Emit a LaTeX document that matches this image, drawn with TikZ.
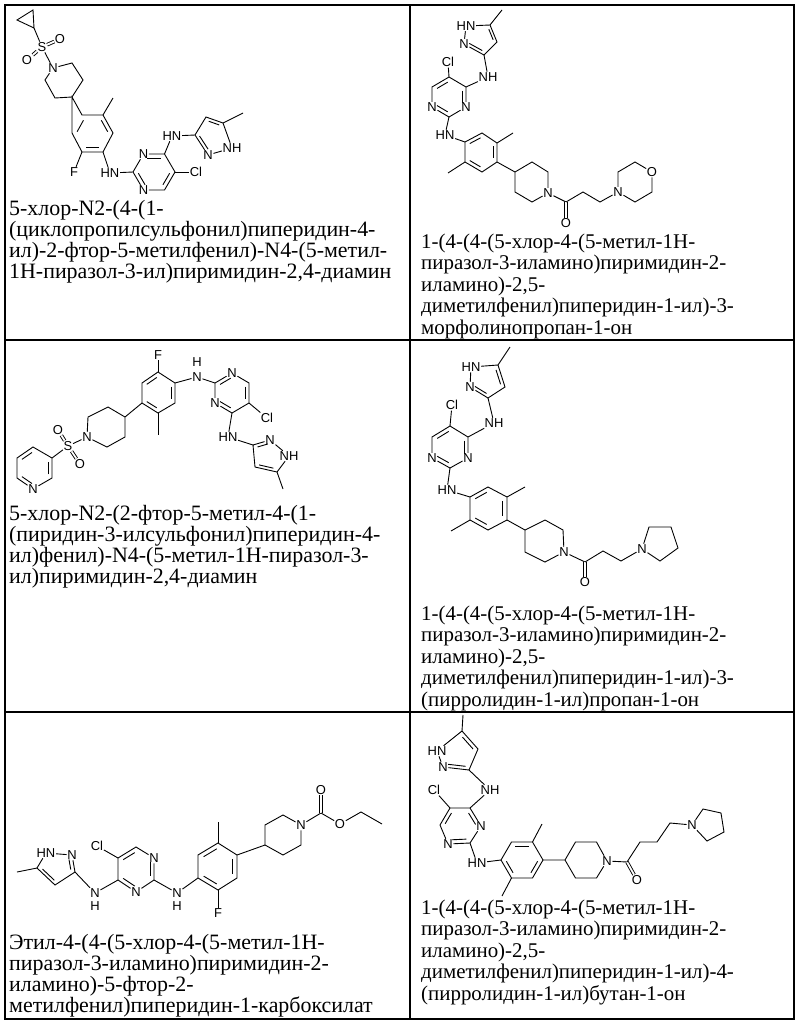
\documentclass[tikz,border=0pt]{standalone}
\usepackage{fontspec}
\setmainfont{Liberation Serif}
\newfontfamily\atomfont{Liberation Sans}
\usetikzlibrary{calc}
\tikzset{
 bond/.style={line width=0.9pt},
 atom/.style={font=\atomfont\fontsize{13}{13}\selectfont, inner sep=0.6pt},
 cellname/.style={anchor=base west, align=left, inner sep=0pt, font=\fontsize{22}{21}\selectfont},
 cellnameb/.style={anchor=base west, align=left, inner sep=0pt, font=\fontsize{21}{21.5}\selectfont},
 dbo/.style={bond, double, double distance=1.8pt}
}
\newcommand\dbl[3]{\draw[bond,shorten <=1.5pt,shorten >=1.5pt] ($(#1)!0.22!(#3)$) -- ($(#2)!0.22!(#3)$);}
\begin{document}
\begin{tikzpicture}[x=1bp,y=-1bp]
\useasboundingbox (0,0) rectangle (800,1025);
% table
\draw[line width=1.2pt] (5,5) rectangle (794,1019);
\draw[line width=1.2pt] (410,5) -- (410,1019);
\draw[line width=1.2pt] (5,340) -- (794,340);
\draw[line width=1.2pt] (5,712) -- (794,712);

% ================= cell 1 =================
\coordinate (cp1) at (17,20); \coordinate (cp2) at (33,10); \coordinate (cp3) at (34,28);
\draw[bond] (cp1)--(cp2)--(cp3)--cycle;
\node[atom] (S1) at (42,47) {S};
\node[atom] (S1a) at (60,39) {O};
\node[atom] (S1b) at (27,60) {O};
\node[atom] (N1p) at (53,68) {N};
\draw[bond] (cp3)--(S1); \draw[dbo] (S1)--(S1a); \draw[dbo] (S1)--(S1b); \draw[bond] (S1)--(N1p);
\coordinate (q2) at (72,63); \coordinate (q3) at (83,80); \coordinate (q4) at (72,97);
\coordinate (q5) at (55,98); \coordinate (q6) at (45,80);
\draw[bond] (N1p)--(q2)--(q3)--(q4)--(q5)--(q6)--(N1p);
\coordinate (b1) at (82,115); \coordinate (b2) at (103,115); \coordinate (b3) at (113,133);
\coordinate (b4) at (103,152); \coordinate (b5) at (82,152); \coordinate (b6) at (72,133);
\coordinate (bc) at (92,133);
\draw[bond] (q4)--(b1)--(b2)--(b3)--(b4)--(b5)--(b6)--cycle;
\dbl{b2}{b3}{bc} \dbl{b4}{b5}{bc} \dbl{b6}{b1}{bc}
\coordinate (me1) at (113,98); \draw[bond] (b2)--(me1);
\node[atom] (F1) at (74,172) {F}; \draw[bond] (b5)--(F1);
\node[atom] (HNa) at (110,173) {HN}; \draw[bond] (b4)--(HNa);
\coordinate (y2) at (133,172); \node[atom] (y3) at (143.5,154) {N};
\coordinate (y4) at (164.5,154); \coordinate (y5) at (175,172);
\coordinate (y6) at (164.5,190); \node[atom] (y1) at (143.5,190) {N};
\coordinate (yc) at (154,172);
\draw[bond] (HNa)--(y2)--(y3)--(y4)--(y5)--(y6)--(y1)--(y2);
\dbl{y3}{y4}{yc} \dbl{y5}{y6}{yc} \dbl{y1}{y2}{yc}
\node[atom] (Cl1) at (196,172) {Cl}; \draw[bond] (y5)--(Cl1);
\node[atom] (HNb) at (172,136) {HN}; \draw[bond] (y4)--(HNb);
\coordinate (z3) at (195,135); \node[atom] (z2) at (208,155) {N};
\node[atom] (z1) at (232,148) {NH}; \coordinate (z5) at (223,123);
\coordinate (z4) at (206,117); \coordinate (zc) at (212,134);
\draw[bond] (HNb)--(z3)--(z2)--(z1)--(z5)--(z4)--(z3);
\dbl{z3}{z2}{zc} \dbl{z4}{z5}{zc}
\coordinate (me2) at (243,113); \draw[bond] (z5)--(me2);
\node[cellname] (t1) at (9,278) {5-хлор-N2-(4-(1-\\(циклопропилсульфонил)пиперидин-4-\\ил)-2-фтор-5-метилфенил)-N4-(5-метил-\\1H-пиразол-3-ил)пиримидин-2,4-диамин};

% ================= cell 2 =================
\coordinate (A5) at (490,25); \node[atom] (A1) at (466,26) {HN}; \node[atom] (A2) at (464,44) {N};
\coordinate (A3) at (484,55); \coordinate (A4) at (497,42); \coordinate (Ac) at (482,38);
\draw[bond] (A5)--(A1)--(A2)--(A3)--(A4)--(A5);
\dbl{A3}{A2}{Ac} \dbl{A4}{A5}{Ac}
\coordinate (Ame) at (502,10); \draw[bond] (A5)--(Ame);
\node[atom] (ANH) at (488,77) {NH}; \draw[bond] (A3)--(ANH);
\coordinate (B4) at (466,87); \coordinate (B5) at (449,77); \coordinate (B6) at (432,87);
\node[atom] (B1) at (432,107) {N}; \coordinate (B2) at (449,117); \node[atom] (B3) at (466,107) {N};
\coordinate (Bc) at (449,97);
\draw[bond] (ANH)--(B4)--(B5)--(B6)--(B1)--(B2)--(B3)--(B4);
\dbl{B5}{B6}{Bc} \dbl{B4}{B3}{Bc} \dbl{B2}{B1}{Bc}
\node[atom] (BCl) at (448,62) {Cl}; \draw[bond] (B5)--(BCl);
\node[atom] (BHN) at (445,135) {HN}; \draw[bond] (B2)--(BHN);
\coordinate (C1) at (465,142); \coordinate (C2) at (482,133); \coordinate (C3) at (497,143);
\coordinate (C4) at (497,162); \coordinate (C5) at (482,172); \coordinate (C6) at (465,162);
\coordinate (Cc) at (481,152);
\draw[bond] (BHN)--(C1)--(C2)--(C3)--(C4)--(C5)--(C6)--(C1);
\dbl{C1}{C2}{Cc} \dbl{C3}{C4}{Cc} \dbl{C5}{C6}{Cc}
\coordinate (Cm1) at (513,133); \coordinate (Cm2) at (448,173);
\draw[bond] (C3)--(Cm1); \draw[bond] (C6)--(Cm2);
\coordinate (D1) at (515,172); \coordinate (D2) at (532,162); \coordinate (D3) at (548,172);
\node[atom] (DN) at (548,193) {N}; \coordinate (D5) at (532,202); \coordinate (D6) at (515,192);
\draw[bond] (C4)--(D1)--(D2)--(D3)--(DN)--(D5)--(D6)--(D1);
\coordinate (Dk) at (566,202); \node[atom] (DO) at (566,223) {O};
\draw[bond] (DN)--(Dk); \draw[dbo] (Dk)--(DO);
\coordinate (E1) at (583,192); \coordinate (E2) at (600,202);
\node[atom] (EN) at (618,192) {N};
\draw[bond] (Dk)--(E1)--(E2)--(EN);
\coordinate (E3) at (618,172); \coordinate (E4) at (635,162); \node[atom] (EO) at (652,172) {O};
\coordinate (E5) at (652,192); \coordinate (E6) at (635,202);
\draw[bond] (EN)--(E3)--(E4)--(EO)--(E5)--(E6)--(EN);
\node[cellnameb] (t2) at (421,334) {1-(4-(4-(5-хлор-4-(5-метил-1H-\\пиразол-3-иламино)пиримидин-2-\\иламино)-2,5-\\диметилфенил)пиперидин-1-ил)-3-\\морфолинопропан-1-он};

% ================= cell 3 =================
\node[atom] (GF) at (158,355) {F};
\coordinate (G1) at (158,372); \coordinate (G2) at (175,383); \coordinate (G3) at (175,403);
\coordinate (G4) at (158,413); \coordinate (G5) at (142,403); \coordinate (G6) at (142,383);
\coordinate (Gc) at (158,393);
\draw[bond] (G1)--(G2)--(G3)--(G4)--(G5)--(G6)--(G1);
\dbl{G6}{G1}{Gc} \dbl{G2}{G3}{Gc} \dbl{G4}{G5}{Gc}
\draw[bond] (G1)--(GF);
\coordinate (Gme) at (158,435); \draw[bond] (G4)--(Gme);
\node[atom] (GN) at (197,377) {N}; \node[atom] (GH) at (197,362) {H};
\draw[bond] (G2)--(GN);
\coordinate (H2) at (215,383); \node[atom] (H3) at (232,373) {N}; \coordinate (H6) at (249,383);
\coordinate (H5) at (249,403); \coordinate (H4) at (232,413); \node[atom] (H1) at (215,403) {N};
\coordinate (Hc) at (232,393);
\draw[bond] (GN)--(H2)--(H3)--(H6)--(H5)--(H4)--(H1)--(H2);
\dbl{H2}{H3}{Hc} \dbl{H6}{H5}{Hc} \dbl{H4}{H1}{Hc}
\node[atom] (HCl) at (267,418) {Cl}; \draw[bond] (H5)--(HCl);
\node[atom] (HHN) at (228,437) {HN}; \draw[bond] (H4)--(HHN);
\coordinate (I3) at (253,445); \node[atom] (I2) at (270,440) {N}; \node[atom] (I1) at (289,456) {NH};
\coordinate (I5) at (277,472); \coordinate (I4) at (255,467); \coordinate (Ic) at (267,456);
\draw[bond] (HHN)--(I3)--(I2)--(I1)--(I5)--(I4)--(I3);
\dbl{I3}{I2}{Ic} \dbl{I4}{I5}{Ic}
\coordinate (Ime) at (283,489); \draw[bond] (I5)--(Ime);
\coordinate (J1) at (125,417); \coordinate (J2) at (108,407); \coordinate (J3) at (88,417);
\node[atom] (JN) at (87,437) {N}; \coordinate (J5) at (107,447); \coordinate (J6) at (125,437);
\draw[bond] (G5)--(J1)--(J2)--(J3)--(JN)--(J5)--(J6)--(J1);
\node[atom] (JS) at (68,446) {S}; \node[atom] (JOa) at (58,430) {O}; \node[atom] (JOb) at (80,464) {O};
\draw[bond] (JN)--(JS); \draw[dbo] (JS)--(JOa); \draw[dbo] (JS)--(JOb);
\coordinate (K1) at (52,458); \coordinate (K2) at (33,447); \coordinate (K3) at (17,458);
\coordinate (K4) at (17,478); \node[atom] (KN) at (33,489) {N}; \coordinate (K6) at (52,478);
\coordinate (Kc) at (34,468);
\draw[bond] (JS)--(K1)--(K2)--(K3)--(K4)--(KN)--(K6)--(K1);
\dbl{K2}{K3}{Kc} \dbl{K4}{KN}{Kc} \dbl{K6}{K1}{Kc}
\node[cellname] (t3) at (9,583) {5-хлор-N2-(2-фтор-5-метил-4-(1-\\(пиридин-3-илсульфонил)пиперидин-4-\\ил)фенил)-N4-(5-метил-1H-пиразол-3-\\ил)пиримидин-2,4-диамин};

% ================= cell 4 =================
\coordinate (L5) at (498,365); \node[atom] (L1) at (471,367) {HN}; \node[atom] (L2) at (470,387) {N};
\coordinate (L3) at (488,398); \coordinate (L4) at (505,387); \coordinate (Lc) at (487,381);
\draw[bond] (L5)--(L1)--(L2)--(L3)--(L4)--(L5);
\dbl{L3}{L2}{Lc} \dbl{L4}{L5}{Lc}
\coordinate (Lme) at (510,347); \draw[bond] (L5)--(Lme);
\node[atom] (LNH) at (494,423) {NH}; \draw[bond] (L3)--(LNH);
\coordinate (M4) at (468,437); \coordinate (M5) at (450,426); \coordinate (M6) at (432,437);
\node[atom] (M1) at (432,458) {N}; \coordinate (M2) at (450,468); \node[atom] (M3) at (468,458) {N};
\coordinate (Mc) at (450,447);
\draw[bond] (LNH)--(M4)--(M5)--(M6)--(M1)--(M2)--(M3)--(M4);
\dbl{M5}{M6}{Mc} \dbl{M4}{M3}{Mc} \dbl{M2}{M1}{Mc}
\node[atom] (MCl) at (452,405) {Cl}; \draw[bond] (M5)--(MCl);
\node[atom] (MHN) at (447,490) {HN}; \draw[bond] (M2)--(MHN);
\coordinate (N1) at (470,497); \coordinate (N2) at (488,487); \coordinate (N3) at (507,497);
\coordinate (N4) at (507,520); \coordinate (N5) at (488,530); \coordinate (N6) at (470,520);
\coordinate (Nc) at (488,508);
\draw[bond] (MHN)--(N1)--(N2)--(N3)--(N4)--(N5)--(N6)--(N1);
\dbl{N1}{N2}{Nc} \dbl{N3}{N4}{Nc} \dbl{N5}{N6}{Nc}
\coordinate (Nm1) at (525,487); \coordinate (Nm2) at (451,531);
\draw[bond] (N3)--(Nm1); \draw[bond] (N6)--(Nm2);
\coordinate (P1) at (525,530); \coordinate (P2) at (545,520); \coordinate (P3) at (563,530);
\node[atom] (PN) at (564,552) {N}; \coordinate (P5) at (545,562); \coordinate (P6) at (525,552);
\draw[bond] (N4)--(P1)--(P2)--(P3)--(PN)--(P5)--(P6)--(P1);
\coordinate (Pk) at (585,562); \node[atom] (PO) at (585,582) {O};
\draw[bond] (PN)--(Pk); \draw[dbo] (Pk)--(PO);
\coordinate (Q1) at (603,551); \coordinate (Q2) at (621,561);
\node[atom] (QN) at (642,549) {N};
\draw[bond] (Pk)--(Q1)--(Q2)--(QN);
\coordinate (Q3) at (649,527); \coordinate (Q4) at (671,527); \coordinate (Q5) at (678,548); \coordinate (Q6) at (660,561);
\draw[bond] (QN)--(Q3)--(Q4)--(Q5)--(Q6)--(QN);
\node[cellnameb] (t4) at (421,706) {1-(4-(4-(5-хлор-4-(5-метил-1H-\\пиразол-3-иламино)пиримидин-2-\\иламино)-2,5-\\диметилфенил)пиперидин-1-ил)-3-\\(пирролидин-1-ил)пропан-1-он};

% ================= cell 5 =================
\coordinate (R5) at (37,868); \node[atom] (R1) at (46,853) {HN}; \node[atom] (R2) at (72,855) {N};
\coordinate (R3) at (75,872); \coordinate (R4) at (55,885); \coordinate (Rc) at (57,868);
\draw[bond] (R5)--(R1)--(R2)--(R3)--(R4)--(R5);
\dbl{R3}{R2}{Rc} \dbl{R4}{R5}{Rc}
\coordinate (Rme) at (17,872); \draw[bond] (R5)--(Rme);
\node[atom] (RN) at (95,893) {N}; \node[atom] (RH) at (95,906) {H};
\draw[bond] (R3)--(RN);
\coordinate (S5) at (118,858); \coordinate (S6) at (136,847); \node[atom] (S1n) at (154,858) {N};
\coordinate (S2) at (154,880); \node[atom] (S3) at (136,892) {N}; \coordinate (S4) at (118,880);
\coordinate (Sc) at (136,869);
\draw[bond] (RN)--(S4)--(S5)--(S6)--(S1n)--(S2)--(S3)--(S4);
\dbl{S5}{S6}{Sc} \dbl{S1n}{S2}{Sc} \dbl{S3}{S4}{Sc}
\node[atom] (SCl) at (97,846) {Cl}; \draw[bond] (S5)--(SCl);
\node[atom] (SN) at (177,893) {N}; \node[atom] (SH) at (177,906) {H};
\draw[bond] (S2)--(SN);
\coordinate (T1) at (198,878); \coordinate (T2) at (198,855); \coordinate (T3) at (218,843);
\coordinate (T4) at (237,855); \coordinate (T5) at (237,878); \coordinate (T6) at (218,890);
\coordinate (Tc) at (218,866);
\draw[bond] (SN)--(T1)--(T2)--(T3)--(T4)--(T5)--(T6)--(T1);
\dbl{T2}{T3}{Tc} \dbl{T4}{T5}{Tc} \dbl{T6}{T1}{Tc}
\node[atom] (TF) at (218,913) {F}; \draw[bond] (T6)--(TF);
\coordinate (Tme) at (218,822); \draw[bond] (T3)--(Tme);
\coordinate (U1) at (265,845); \coordinate (U2) at (265,825); \coordinate (U3) at (283,815);
\node[atom] (UN) at (301,825) {N}; \coordinate (U5) at (301,845); \coordinate (U6) at (283,855);
\draw[bond] (T4)--(U1)--(U2)--(U3)--(UN)--(U5)--(U6)--(U1);
\coordinate (Uk) at (321,813); \node[atom] (UO1) at (321,790) {O}; \node[atom] (UO2) at (340,824) {O};
\draw[bond] (UN)--(Uk); \draw[dbo] (Uk)--(UO1);
\coordinate (Ue1) at (361,812); \coordinate (Ue2) at (382,824);
\draw[bond] (Uk)--(UO2)--(Ue1)--(Ue2);
\node[cellname] (t5) at (9,1012) {Этил-4-(4-(5-хлор-4-(5-метил-1H-\\пиразол-3-иламино)пиримидин-2-\\иламино)-5-фтор-2-\\метилфенил)пиперидин-1-карбоксилат};

% ================= cell 6 =================
\coordinate (V5) at (462,731); \node[atom] (V1) at (437,751) {HN}; \node[atom] (V2) at (443,767) {N};
\coordinate (V3) at (469,770); \coordinate (V4) at (478,749); \coordinate (Vc) at (460,754);
\draw[bond] (V5)--(V1)--(V2)--(V3)--(V4)--(V5);
\dbl{V3}{V2}{Vc} \dbl{V4}{V5}{Vc}
\coordinate (Vme) at (463,715); \draw[bond] (V5)--(Vme);
\node[atom] (VNH) at (490,790) {NH}; \draw[bond] (V3)--(VNH);
\coordinate (W5) at (450,808); \coordinate (W4) at (470,808); \node[atom] (W3) at (481,826) {N};
\coordinate (W2) at (470,843); \node[atom] (W1) at (448,844) {N}; \coordinate (W6) at (440,825);
\coordinate (Wc) at (460,825);
\draw[bond] (VNH)--(W4)--(W5)--(W6)--(W1)--(W2)--(W3)--(W4);
\dbl{W6}{W5}{Wc} \dbl{W1}{W2}{Wc} \dbl{W3}{W4}{Wc}
\node[atom] (WCl) at (434,790) {Cl}; \draw[bond] (W5)--(WCl);
\node[atom] (WHN) at (477,863) {HN}; \draw[bond] (W2)--(WHN);
\coordinate (X1) at (501,860); \coordinate (X2) at (511.5,842); \coordinate (X3) at (532.5,842);
\coordinate (X4) at (543,860); \coordinate (X5) at (532.5,878); \coordinate (X6) at (511.5,878);
\coordinate (Xc) at (522,860);
\draw[bond] (WHN)--(X1)--(X2)--(X3)--(X4)--(X5)--(X6)--(X1);
\dbl{X2}{X3}{Xc} \dbl{X4}{X5}{Xc} \dbl{X6}{X1}{Xc}
\coordinate (Xm1) at (542,824); \coordinate (Xm2) at (502,896);
\draw[bond] (X3)--(Xm1); \draw[bond] (X6)--(Xm2);
\coordinate (Y1) at (565,860); \coordinate (Y2) at (575.5,842); \coordinate (Y3) at (596.5,842);
\node[atom] (YN) at (607,861) {N}; \coordinate (Y5) at (596.5,878); \coordinate (Y6) at (575.5,878);
\draw[bond] (X4)--(Y1)--(Y2)--(Y3)--(YN)--(Y5)--(Y6)--(Y1);
\coordinate (Yk) at (627,862); \node[atom] (YO) at (637,880) {O};
\draw[bond] (YN)--(Yk); \draw[dbo] (Yk)--(YO);
\coordinate (Z1) at (640,842); \coordinate (Z2) at (657,842); \coordinate (Z3) at (670,823);
\node[atom] (ZN) at (692,825) {N};
\draw[bond] (Yk)--(Z1)--(Z2)--(Z3)--(ZN);
\coordinate (Z4) at (703,809); \coordinate (Z5) at (721,813); \coordinate (Z6) at (724,832); \coordinate (Z7) at (707,841);
\draw[bond] (ZN)--(Z4)--(Z5)--(Z6)--(Z7)--(ZN);
\node[cellnameb] (t6) at (421,1000) {1-(4-(4-(5-хлор-4-(5-метил-1H-\\пиразол-3-иламино)пиримидин-2-\\иламино)-2,5-\\диметилфенил)пиперидин-1-ил)-4-\\(пирролидин-1-ил)бутан-1-он};
\end{tikzpicture}
\end{document}
